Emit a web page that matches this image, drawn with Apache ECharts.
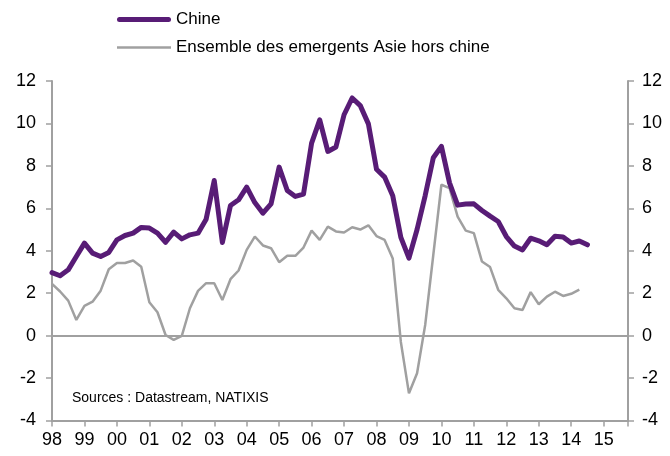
<!DOCTYPE html>
<html>
<head>
<meta charset="utf-8">
<script src="https://cdn.jsdelivr.net/npm/echarts@6/dist/echarts.min.js"></script>
<style>
html,body{margin:0;padding:0;background:#fff;}
#chart{width:670px;height:456px;}
</style>
</head>
<body>
<div id="chart"></div>
<script>
// Quarterly data, starting 1998 Q1
const startYear = 1998;
const chineValues = [2.97,2.82,3.1,3.73,4.36,3.89,3.73,3.92,4.51,4.72,4.83,5.1,5.07,4.83,4.4,4.88,4.56,4.75,4.83,5.49,7.31,4.39,6.13,6.4,7.0,6.27,5.77,6.21,7.94,6.84,6.56,6.67,9.07,10.17,8.68,8.89,10.41,11.2,10.84,9.98,7.84,7.47,6.59,4.63,3.65,5.0,6.6,8.38,8.92,7.2,6.15,6.2,6.21,5.9,5.63,5.38,4.67,4.22,4.04,4.59,4.47,4.28,4.68,4.65,4.36,4.46,4.28];
const asieValues = [2.44,2.08,1.65,0.74,1.4,1.6,2.12,3.13,3.42,3.42,3.54,3.25,1.57,1.1,0.03,-0.2,-0.01,1.29,2.11,2.47,2.47,1.68,2.66,3.07,4.04,4.67,4.25,4.12,3.46,3.76,3.76,4.15,4.95,4.51,5.14,4.91,4.86,5.11,5.0,5.2,4.69,4.51,3.64,-0.3,-2.72,-1.77,0.5,3.8,7.11,6.95,5.61,4.95,4.83,3.49,3.23,2.16,1.76,1.29,1.21,2.05,1.48,1.84,2.07,1.87,1.97,2.17];
const seriesNames = ['Chine', 'Ensemble des emergents Asie hors chine'];
const yTicks = [-4,-2,0,2,4,6,8,10,12];
const sourceText = 'Sources : Datastream, NATIXIS';

const toPairs = arr => arr.map((v, i) => [startYear + i / 4, v]);

const axisColor = '#A0A0A0';
const purple = '#581C76';
const grey = '#A0A0A0';
const font = 'Liberation Sans, Arial, sans-serif';

const chart = echarts.init(document.getElementById('chart'), null, {renderer: 'canvas'});
const yAxisCommon = {
  type: 'value', min: yTicks[0], max: yTicks[yTicks.length - 1], interval: 2,
  axisLine: {show: true, lineStyle: {color: axisColor, width: 2}},
  axisTick: {show: true, length: 6, lineStyle: {color: axisColor, width: 1.5}},
  splitLine: {show: false},
  axisLabel: {color: '#000', fontSize: 18, fontFamily: font}
};
chart.setOption({
  animation: false,
  grid: {left: 52, right: 42, top: 81, bottom: 35.5, containLabel: false},
  legend: {
    orient: 'vertical', left: 112, top: 6, itemWidth: 54, itemHeight: 14, itemGap: 11,
    symbolKeepAspect: true,
    textStyle: {fontSize: 17, fontFamily: font, color: '#000'},
    data: [
      {name: seriesNames[0], icon: 'path://M5,0H103A5,5 0 0 1 103,10H5A5,5 0 0 1 5,0Z', itemStyle: {color: purple}},
      {name: seriesNames[1], icon: 'path://M0,0H108V5H0Z', itemStyle: {color: grey}}
    ]
  },
  xAxis: {
    type: 'value', min: 1998, max: 2015.75, interval: 1,
    axisLine: {show: true, onZero: false, lineStyle: {color: axisColor, width: 2}},
    axisTick: {show: true, length: 6, lineStyle: {color: axisColor, width: 1.5}},
    splitLine: {show: false},
    axisLabel: {
      color: '#000', fontSize: 18, fontFamily: font, margin: 11,
      formatter: v => Number.isInteger(v) ? String(v % 100).padStart(2, '0') : ''
    }
  },
  yAxis: [
    Object.assign({}, yAxisCommon, {position: 'left', axisLabel: Object.assign({}, yAxisCommon.axisLabel, {margin: 16})}),
    Object.assign({}, yAxisCommon, {position: 'right', axisLabel: Object.assign({}, yAxisCommon.axisLabel, {margin: 14})})
  ],
  series: [
    {
      name: seriesNames[1], type: 'line', data: toPairs(asieValues), showSymbol: false, symbol: 'none',
      lineStyle: {color: grey, width: 2.5}, itemStyle: {color: grey}, z: 2,
      markLine: {
        silent: true, symbol: 'none', label: {show: false},
        lineStyle: {color: axisColor, width: 2, type: 'solid'},
        data: [{yAxis: 0}]
      }
    },
    {
      name: seriesNames[0], type: 'line', data: toPairs(chineValues), showSymbol: false, symbol: 'none',
      lineStyle: {color: purple, width: 5, cap: 'round', join: 'round'}, itemStyle: {color: purple}, z: 3
    }
  ],
  graphic: [{
    type: 'text', left: 72, top: 391,
    style: {text: sourceText, fontSize: 14, fontFamily: font, fill: '#000'}
  }]
});
</script>
</body>
</html>
